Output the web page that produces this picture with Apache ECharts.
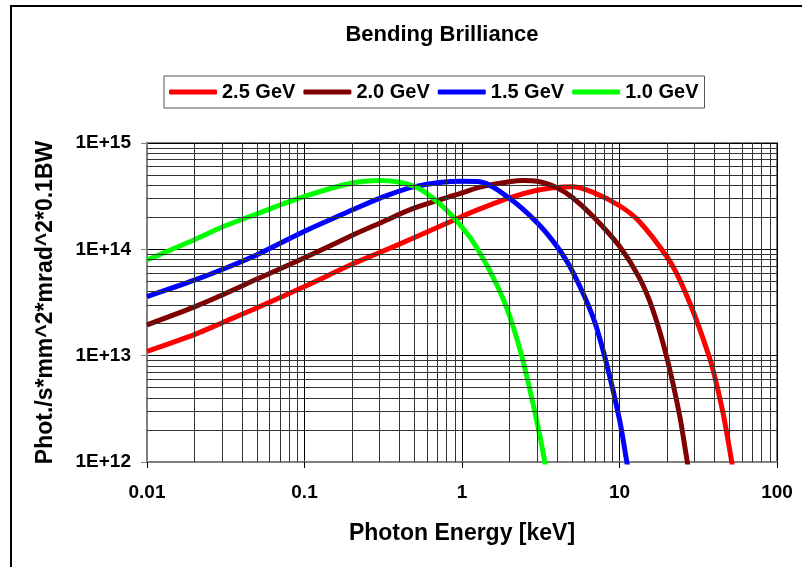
<!DOCTYPE html>
<html>
<head>
<meta charset="utf-8">
<script src="https://cdn.jsdelivr.net/npm/echarts@6/dist/echarts.min.js"></script>
<style>
  html, body { margin: 0; padding: 0; background: #fff; }
  #chart { width: 802px; height: 567px; }
</style>
</head>
<body>
<div id="chart"></div>
<script>
// values (keV, photons/s/mm^2/mrad^2/0.1%BW)
const seriesNames = ["2.5 GeV", "2.0 GeV", "1.5 GeV", "1.0 GeV"];
const seriesColors = ["#ff0000", "#800000", "#0000ff", "#00ff00"];

const x25 = [0.01, 0.02, 0.03, 0.05, 0.1, 0.2, 0.3, 0.5, 1, 1.3, 2, 3, 4, 5, 6.8, 10, 13.4, 20, 24, 30, 37.3, 40, 45.3, 50, 53];
const y25 = [1.1e13, 1.58e13, 2.04e13, 2.82e13, 4.47e13, 7.24e13, 9.33e13, 1.29e14, 2.04e14, 2.4e14, 3.05e14, 3.59e14, 3.82e14, 3.87e14, 3.43e14, 2.57e14, 1.82e14, 8.51e13, 5.25e13, 2.4e13, 9.55e12, 6.61e12, 2.95e12, 1.32e12, 7.9e11];

const x20 = [0.01, 0.02, 0.03, 0.05, 0.1, 0.2, 0.3, 0.5, 1, 1.3, 2, 2.44, 3, 4, 5, 6.8, 10, 13.4, 16.3, 20, 24, 26.5, 27.5];
const y20 = [1.95e13, 2.88e13, 3.72e13, 5.25e13, 8.32e13, 1.35e14, 1.76e14, 2.45e14, 3.39e14, 3.85e14, 4.32e14, 4.44e14, 4.37e14, 3.8e14, 3.09e14, 2.04e14, 1.07e14, 5.37e13, 2.69e13, 9.55e12, 2.82e12, 1.17e12, 8.3e11];

const x15 = [0.01, 0.02, 0.03, 0.05, 0.1, 0.2, 0.3, 0.5, 1, 1.3, 2, 3, 4, 5, 6.8, 8.26, 10, 11.07, 11.5];
const y15 = [3.6e13, 5.13e13, 6.46e13, 8.91e13, 1.48e14, 2.34e14, 3.02e14, 3.89e14, 4.36e14, 4.32e14, 3.02e14, 1.78e14, 1.07e14, 6.31e13, 2.29e13, 8.51e12, 2.51e12, 1.05e12, 7.6e11];

const x10 = [0.01, 0.02, 0.03, 0.05, 0.1, 0.2, 0.3, 0.5, 0.72, 1, 1.24, 1.66, 2, 2.44, 3, 3.3, 3.45];
const y10 = [7.94e13, 1.23e14, 1.62e14, 2.16e14, 3.14e14, 4.2e14, 4.45e14, 3.91e14, 2.69e14, 1.62e14, 1.04e14, 4.68e13, 2.4e13, 8.91e12, 2.34e12, 1.15e12, 7.9e11];

// minor grid lines (2..9 per decade)
const xGridValues = [0.02, 0.03, 0.04, 0.05, 0.06, 0.07, 0.08, 0.09,
  0.2, 0.3, 0.4, 0.5, 0.6, 0.7, 0.8, 0.9,
  2, 3, 4, 5, 6, 7, 8, 9,
  20, 30, 40, 50, 60, 70, 80, 90];
const yGridValues = [2e12, 3e12, 4e12, 5e12, 6e12, 7e12, 8e12, 9e12,
  2e13, 3e13, 4e13, 5e13, 6e13, 7e13, 8e13, 9e13,
  2e14, 3e14, 4e14, 5e14, 6e14, 7e14, 8e14, 9e14];

const xs = [x25, x20, x15, x10];
const ys = [y25, y20, y15, y10];

const font = "Liberation Sans, Arial, sans-serif";
const chart = echarts.init(document.getElementById("chart"));

const curveSeries = seriesNames.map((name, i) => ({
  name: name,
  type: "line",
  data: xs[i].map((x, j) => [x, ys[i][j]]),
  smooth: 0.3,
  showSymbol: false,
  symbol: "none",
  color: seriesColors[i],
  lineStyle: { width: 5, color: seriesColors[i] },
  z: 3,
  animation: false,
}));

const option = {
  backgroundColor: "#fff",
  title: {
    text: "Bending Brilliance",
    left: 442,
    top: 24,
    padding: 0,
    textAlign: "center",
    textStyle: { fontFamily: font, fontSize: 22, fontWeight: "bold", color: "#000" },
  },
  legend: {
    data: seriesNames,
    left: 164,
    top: 76,
    itemWidth: 48,
    itemHeight: 5,
    itemGap: 8,
    padding: [6, 6, 6, 5],
    borderColor: "#555",
    borderWidth: 1,
    icon: "roundRect",
    textStyle: { fontFamily: font, fontSize: 20, fontWeight: "bold", color: "#000" },
  },
  grid: {
    left: 147,
    right: 25,
    top: 143,
    bottom: 105,
    show: true,
    borderColor: "#808080",
    borderWidth: 2,
  },
  xAxis: {
    type: "log",
    logBase: 10,
    min: 0.01,
    max: 100,
    name: "Photon Energy [keV]",
    nameLocation: "middle",
    nameGap: 60,
    nameTextStyle: { fontFamily: font, fontSize: 23, fontWeight: "bold", color: "#000" },
    axisLine: { lineStyle: { color: "#808080", width: 2 } },
    axisTick: { show: true, length: 6, lineStyle: { color: "#000", width: 1 } },
    axisLabel: {
      margin: 21,
      fontFamily: font, fontSize: 19, fontWeight: "bold", color: "#000",
      formatter: (v) => String(+v.toPrecision(3)),
    },
    splitLine: { show: true, lineStyle: { color: "#000", width: 1 } },
  },
  yAxis: {
    type: "log",
    logBase: 10,
    min: 1e12,
    max: 1e15,
    name: "Phot./s*mm^2*mrad^2*0.1BW",
    nameLocation: "middle",
    nameGap: 90,
    nameTextStyle: { fontFamily: font, fontSize: 23, fontWeight: "bold", color: "#000" },
    axisLine: { show: true, lineStyle: { color: "#808080", width: 2 } },
    axisTick: { show: true, length: 6, lineStyle: { color: "#808080", width: 1 } },
    axisLabel: {
      margin: 16,
      fontFamily: font, fontSize: 19, fontWeight: "bold", color: "#000",
      formatter: (v) => "1E+" + Math.round(Math.log10(v)),
    },
    splitLine: { show: true, lineStyle: { color: "#000", width: 1 } },
  },
  graphic: [
    {
      type: "rect",
      shape: { x: 11, y: 6, width: 900, height: 700 },
      style: { fill: "none", stroke: "#000", lineWidth: 2 },
      silent: true,
    },
  ],
  series: [
    {
      name: "grid",
      type: "line",
      data: [],
      z: 1,
      animation: false,
      markLine: {
        silent: true,
        symbol: ["none", "none"],
        label: { show: false },
        lineStyle: { color: "#333", width: 1, type: "solid" },
        emphasis: { disabled: true },
        animation: false,
        data: xGridValues.map((v) => ({ xAxis: v }))
          .concat(yGridValues.map((v) => ({ yAxis: v }))),
      },
    },
  ].concat(curveSeries),
};

chart.setOption(option);
</script>
</body>
</html>
